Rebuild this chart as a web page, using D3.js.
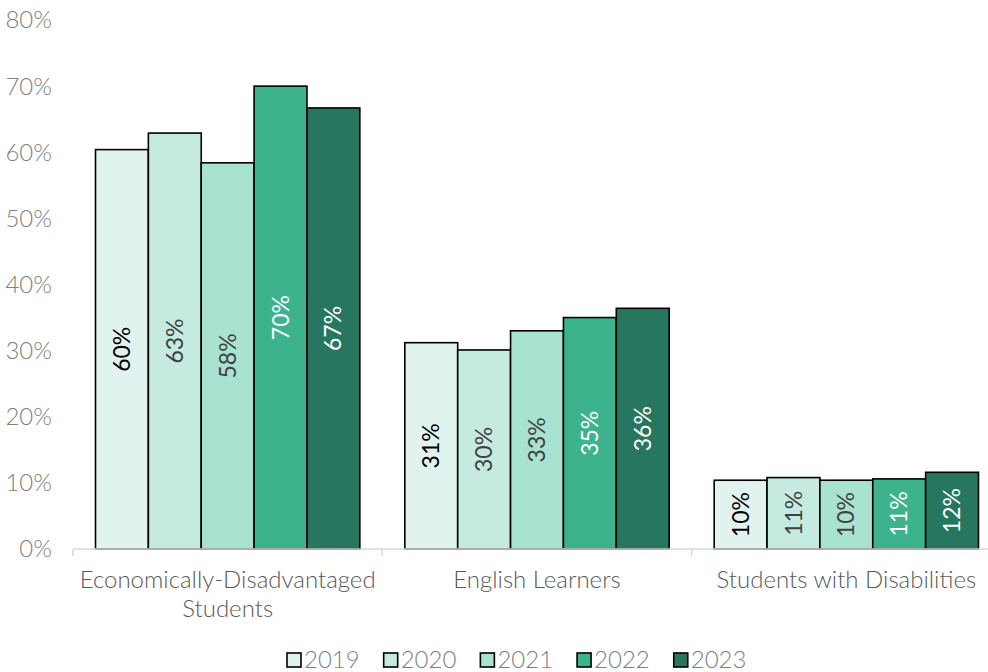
<!DOCTYPE html>
<html>
<head>
<meta charset="utf-8">
<script src="https://cdn.jsdelivr.net/npm/d3@7"></script>
<style>
  html, body { margin: 0; padding: 0; background: #fff; }
  svg { display: block; font-family: Lato, "Open Sans", sans-serif; }
</style>
</head>
<body>
<svg id="chart" width="988" height="672"></svg>
<script>
// Share of students in each group, by school year
const categories = ["Economically-Disadvantaged Students", "English Learners", "Students with Disabilities"];
const categoryLines = [["Economically-Disadvantaged", "Students"], ["English Learners"], ["Students with Disabilities"]];
const years = ["2019", "2020", "2021", "2022", "2023"];
const values2019 = [60.4, 31.2, 10.4];
const values2020 = [62.9, 30.1, 10.8];
const values2021 = [58.4, 33.0, 10.4];
const values2022 = [70.0, 35.0, 10.6];
const values2023 = [66.7, 36.4, 11.6];
const seriesValues = [values2019, values2020, values2021, values2022, values2023];
const yTicks = [0, 10, 20, 30, 40, 50, 60, 70, 80];

const fills = ["#e1f3ee", "#c5eadf", "#a8e2d0", "#3cb28d", "#277760"];
const labelColors = ["#000000", "#404040", "#404040", "#ffffff", "#ffffff"];

const svg = d3.select("#chart");
const margin = { left: 73, right: 1001, top: 20, bottom: 549 };

const x0 = d3.scaleBand().domain(categories).range([margin.left, margin.right]).paddingInner(0).paddingOuter(0);
const groupInset = 22.5;
const x1 = d3.scaleBand().domain(years).range([groupInset, x0.bandwidth() - groupInset]).padding(0);
const y = d3.scaleLinear().domain([0, 80]).range([margin.bottom, margin.top]);

// y-axis tick labels
svg.append("g").selectAll("text").data(yTicks).join("text")
  .attr("x", 52).attr("y", d => y(d)).attr("dy", "0.35em")
  .attr("text-anchor", "end")
  .attr("font-size", 24).attr("font-weight", 300).attr("fill", "#7f7f7f")
  .text(d => d + "%");

// bars
const groups = svg.append("g").selectAll("g").data(categories).join("g")
  .attr("transform", d => `translate(${x0(d)},0)`);

groups.each(function(cat, ci) {
  const g = d3.select(this);
  const rows = years.map((yr, si) => ({ yr, si, v: seriesValues[si][ci] }));
  g.selectAll("rect").data(rows).join("rect")
    .attr("x", d => x1(d.yr)).attr("width", x1.bandwidth())
    .attr("y", d => y(d.v)).attr("height", d => y(0) - y(d.v))
    .attr("fill", d => fills[d.si]).attr("stroke", "#000").attr("stroke-width", 1.6);
  g.selectAll("text").data(rows).join("text")
    .attr("transform", d => `translate(${x1(d.yr) + x1.bandwidth() / 2},${(y(d.v) + y(0)) / 2}) rotate(-90)`)
    .attr("text-anchor", "middle").attr("dy", "0.35em")
    .attr("font-size", 23).attr("fill", d => labelColors[d.si])
    .text(d => Math.round(d.v) + "%");
});

// category axis
const axisG = svg.append("g").attr("stroke", "#d9d9d9").attr("stroke-width", 1.5);
axisG.append("line").attr("x1", margin.left).attr("x2", margin.right).attr("y1", y(0)).attr("y2", y(0));
const bounds = categories.map(c => x0(c)).concat([margin.right]);
axisG.selectAll("line.tick").data(bounds).join("line").attr("class", "tick")
  .attr("x1", d => d).attr("x2", d => d).attr("y1", y(0)).attr("y2", y(0) + 7);

svg.append("g").selectAll("text").data(categories).join("text")
  .attr("text-anchor", "middle").attr("font-size", 24).attr("font-weight", 300).attr("fill", "#595959")
  .each(function(c, i) {
    const t = d3.select(this);
    categoryLines[i].forEach((ln, li) => {
      t.append("tspan").attr("x", x0(c) + x0.bandwidth() / 2).attr("y", 588 + li * 29).text(ln);
    });
  });

// legend
const legend = svg.append("g");
let lx = 287;
years.forEach((yr, i) => {
  legend.append("rect").attr("x", lx).attr("y", 653).attr("width", 14).attr("height", 14)
    .attr("fill", fills[i]).attr("stroke", "#000").attr("stroke-width", 1.6);
  const t = legend.append("text").attr("x", lx + 17).attr("y", 668)
    .attr("font-size", 24).attr("font-weight", 300).attr("fill", "#7f7f7f").text(yr);
  lx += 17 + t.node().getComputedTextLength() + 24;
});
</script>
</body>
</html>
